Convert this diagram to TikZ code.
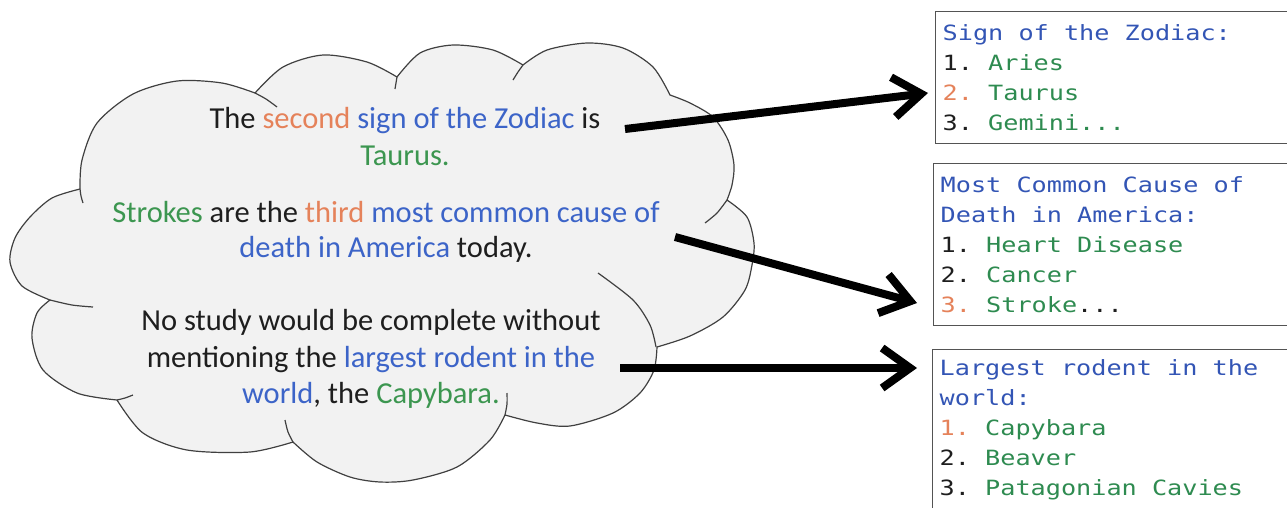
\documentclass[tikz,border=0pt]{standalone}
\usepackage{fontspec}
\setmainfont{Carlito}
\newfontfamily\boxfont[FakeStretch=1.2]{DejaVu Sans Mono}
\newcommand\listfont{\boxfont\fontsize{21}{30}\selectfont\frenchspacing}
\newcommand\monospacing{\spaceskip=\fontcharwd\font`\x\relax\xspaceskip=\spaceskip}
\usetikzlibrary{arrows.meta}
\definecolor{cor}{HTML}{E5825A}
\definecolor{cbl}{HTML}{3C64C8}
\definecolor{cgr}{HTML}{3C9650}
\definecolor{cbk}{HTML}{1E1E1E}
\definecolor{bbl}{HTML}{3355B5}
\definecolor{bgr}{HTML}{2E8B50}
\definecolor{cloudfill}{HTML}{F2F2F2}
\definecolor{cloudedge}{HTML}{404040}
\begin{document}
\begin{tikzpicture}[x=1pt,y=-1pt,
  ctext/.style={anchor=base, inner sep=0pt, font=\fontsize{30.5}{36}\selectfont, text=cbk},
  listbox/.style={draw=gray!65!black, line width=1.3pt, fill=white, anchor=north west,
    align=left, inner xsep=7pt, inner ysep=0pt, text width=350pt,
    font=\listfont, text=cbk, execute at begin node=\monospacing},
  bigarrow/.style={line width=8pt, -{Straight Barb[length=28pt,width=40pt]}},
  cloudinner/.style={draw=cloudedge, line width=1.2pt}]
\useasboundingbox (0,0) rectangle (1287,507);
\clip (0,0) rectangle (1287,507);
% cloud
\filldraw[fill=cloudfill, draw=cloudedge, line width=1.2pt, line join=round]
  (50,300)
  -- plot[smooth] coordinates {(50,300) (22,286) (10,262) (15,238) (30,217) (52,198) (80,189)}
  -- plot[smooth] coordinates {(80,189) (82,160) (97,123) (133,94) (177,81) (222,83) (255,93)}
  -- plot[smooth] coordinates {(255,93) (283,67) (323,55) (367,62) (397,77)}
  -- plot[smooth] coordinates {(397,77) (420,53) (453,45) (493,50) (523,65)}
  -- plot[smooth] coordinates {(523,65) (547,50) (587,43) (623,48) (653,67) (670,95)}
  -- plot[smooth] coordinates {(670,95) (690,103) (713,117) (728,140) (734,165) (732,185) (727,200)}
  -- plot[smooth] coordinates {(727,200) (747,217) (754,243) (752,265) (745,290) (723,317) (690,336) (657,347)}
  -- plot[smooth] coordinates {(657,347) (654,370) (640,393) (613,413) (570,426) (537,423) (505,415)}
  -- plot[smooth] coordinates {(505,415) (490,440) (457,467) (413,480) (380,482) (350,477) (317,462) (293,442)}
  -- plot[smooth] coordinates {(293,442) (250,452) (187,450) (143,433) (117,400)}
  -- plot[smooth] coordinates {(117,400) (77,393) (43,370) (32,338) (37,313) (50,300)}
  -- cycle;
\draw[cloudinner] plot[smooth] coordinates {(80,189) (81,196) (83,203)};
\draw[cloudinner] plot[smooth] coordinates {(255,93) (266,99) (277,107)};
\draw[cloudinner] plot[smooth] coordinates {(397,77) (396,83) (395,89)};
\draw[cloudinner] plot[smooth] coordinates {(523,65) (518,72) (513,80)};
\draw[cloudinner] plot[smooth] coordinates {(727,200) (717,213) (705,223)};
\draw[cloudinner] plot[smooth] coordinates {(598,273) (633,300) (650,325) (656,347)};
\draw[cloudinner] plot[smooth] coordinates {(507,393) (507,404) (505,415)};
\draw[cloudinner] plot[smooth] coordinates {(293,442) (288,432) (285,420)};
\draw[cloudinner] plot[smooth] coordinates {(117,400) (125,398) (133,395)};
\draw[cloudinner] plot[smooth] coordinates {(50,300) (72,305) (93,307)};
% cloud text
\node[ctext] (l1) at (405,128) {The \textcolor{cor}{second} \textcolor{cbl}{sign of the Zodiac} is};
\node[ctext] (l2) at (405,165) {\textcolor{cgr}{Taurus.}};
\node[ctext] (l3) at (386,222) {\textcolor{cgr}{Strokes} are the \textcolor{cor}{third} \textcolor{cbl}{most common cause of}};
\node[ctext] (l4) at (386,257) {\textcolor{cbl}{death in America} today.};
\node[ctext] (l5) at (371,330) {No study would be complete without};
\node[ctext] (l6) at (371,367) {mentioning the \textcolor{cbl}{largest rodent in the}};
\node[ctext] (l7) at (371,403) {\textcolor{cbl}{world}, the \textcolor{cgr}{Capybara.}};
% list boxes
\node[listbox, minimum height=132pt] (box1) at (935,11)
  {\textcolor{bbl}{Sign of the Zodiac:}\\
   1. \textcolor{bgr}{Aries}\\
   \textcolor{cor}{2.} \textcolor{bgr}{Taurus}\\
   3. \textcolor{bgr}{Gemini...}};
\node[listbox, minimum height=162pt] (box2) at (933,163)
  {\textcolor{bbl}{Most Common Cause of}\\
   \textcolor{bbl}{Death in America:}\\
   1. \textcolor{bgr}{Heart Disease}\\
   2. \textcolor{bgr}{Cancer}\\
   \textcolor{cor}{3.} \textcolor{bgr}{Stroke}...};
\node[listbox, minimum height=161pt] (box3) at (932,349)
  {\textcolor{bbl}{Largest rodent in the}\\
   \textcolor{bbl}{world:}\\
   \textcolor{cor}{1.} \textcolor{bgr}{Capybara}\\
   2. \textcolor{bgr}{Beaver}\\
   3. \textcolor{bgr}{Patagonian Cavies}};
% arrows
\coordinate (s1) at (625,129);
\coordinate (e1) at (928,93);
\coordinate (s2) at (675,237);
\coordinate (e2) at (917,303);
\coordinate (s3) at (620,368);
\coordinate (e3) at (917,368);
\draw[bigarrow] (s1) -- (e1);
\draw[bigarrow] (s2) -- (e2);
\draw[bigarrow] (s3) -- (e3);
\end{tikzpicture}
\end{document}
